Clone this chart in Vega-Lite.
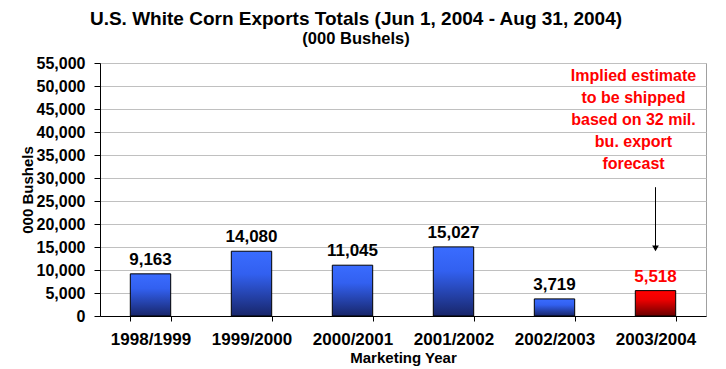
{
  "$schema": "https://vega.github.io/schema/vega-lite/v6.json",
  "autosize": "none",
  "width": 606,
  "height": 253,
  "padding": {"left": 100, "top": 63, "right": 20, "bottom": 53},
  "background": "white",
  "config": {
    "font": "Liberation Sans",
    "view": {"stroke": "#a0a0a0", "strokeWidth": 1}
  },
  "title": {
    "text": "U.S. White Corn Exports Totals (Jun 1, 2004 - Aug 31, 2004)",
    "subtitle": "(000 Bushels)",
    "anchor": "middle",
    "dx": -47,
    "fontSize": 19,
    "fontWeight": "bold",
    "color": "black",
    "subtitleFontSize": 16.5,
    "subtitleFontWeight": "bold",
    "subtitleColor": "black",
    "subtitlePadding": 2,
    "offset": 8,
    "font": "Liberation Sans",
    "subtitleFont": "Liberation Sans"
  },
  "data": {
    "values": [
      {"year": "1998/1999", "value": 9163, "kind": "actual"},
      {"year": "1999/2000", "value": 14080, "kind": "actual"},
      {"year": "2000/2001", "value": 11045, "kind": "actual"},
      {"year": "2001/2002", "value": 15027, "kind": "actual"},
      {"year": "2002/2003", "value": 3719, "kind": "actual"},
      {"year": "2003/2004", "value": 5518, "kind": "estimate"}
    ]
  },
  "encoding": {
    "x": {
      "field": "year",
      "type": "nominal",
      "sort": null,
      "scale": {"paddingInner": 0.6, "paddingOuter": 0.3},
      "axis": {
        "title": "Marketing Year",
        "titleFontSize": 15,
        "titleFontWeight": "bold",
        "titleColor": "black",
        "titlePadding": 3,
        "labelAngle": 0,
        "labelFontSize": 17,
        "labelFontWeight": "bold",
        "labelColor": "black",
        "labelPadding": 10,
        "tickBand": "extent",
        "tickSize": 5,
        "tickColor": "black",
        "domainColor": "black",
        "grid": false
      }
    },
    "y": {
      "field": "value",
      "type": "quantitative",
      "scale": {"domain": [0, 55000], "nice": false},
      "axis": {
        "title": "000 Bushels",
        "titleFontSize": 15,
        "titleFontWeight": "bold",
        "titleColor": "black",
        "titlePadding": 1,
        "values": [0, 5000, 10000, 15000, 20000, 25000, 30000, 35000, 40000, 45000, 50000, 55000],
        "labelOverlap": false,
        "format": ",d",
        "labelFontSize": 16,
        "labelFontWeight": "bold",
        "labelColor": "black",
        "labelPadding": 9,
        "tickSize": 6,
        "tickColor": "black",
        "domainColor": "black",
        "grid": true,
        "gridColor": "#c0c0c0",
        "gridWidth": 1,
        "gridOpacity": 1
      }
    }
  },
  "layer": [
    {
      "mark": {"type": "bar", "stroke": "black", "strokeWidth": 1},
      "encoding": {
        "fill": {
          "condition": {
            "test": "datum.kind === 'estimate'",
            "value": {"gradient": "linear", "x1": 0, "y1": 0, "x2": 0, "y2": 1,
              "stops": [{"offset": 0, "color": "#ff0000"}, {"offset": 0.35, "color": "#ee0000"}, {"offset": 1, "color": "#6a0000"}]}
          },
          "value": {"gradient": "linear", "x1": 0, "y1": 0, "x2": 0, "y2": 1,
            "stops": [{"offset": 0, "color": "#3a6cff"}, {"offset": 0.35, "color": "#3260f0"}, {"offset": 1, "color": "#18266a"}]}
        }
      }
    },
    {
      "mark": {"type": "text", "baseline": "bottom", "dy": -5, "fontSize": 17, "fontWeight": "bold"},
      "encoding": {
        "text": {"field": "value", "type": "quantitative", "format": ","},
        "color": {
          "condition": {"test": "datum.kind === 'estimate'", "value": "#ff0000"},
          "value": "black"
        }
      }
    },
    {
      "data": {"values": [{"year": "2003/2004", "value": 52200, "note": ["Implied estimate", "to be shipped", "based on 32 mil.", "bu. export", "forecast"]}]},
      "mark": {"type": "text", "baseline": "middle", "align": "center", "dx": -22, "fontSize": 16, "fontWeight": "bold", "color": "#ff0000", "lineHeight": 22},
      "encoding": {
        "text": {"field": "note"}
      }
    },
    {
      "data": {"values": [{"year": "2003/2004", "value": 28000, "value2": 15200}]},
      "mark": {"type": "rule", "color": "black", "strokeWidth": 1},
      "encoding": {
        "y2": {"field": "value2"}
      }
    },
    {
      "data": {"values": [{"year": "2003/2004", "value": 14700}]},
      "mark": {"type": "point", "shape": "triangle-down", "filled": true, "color": "black", "size": 45, "opacity": 1},
      "encoding": {}
    }
  ]
}
